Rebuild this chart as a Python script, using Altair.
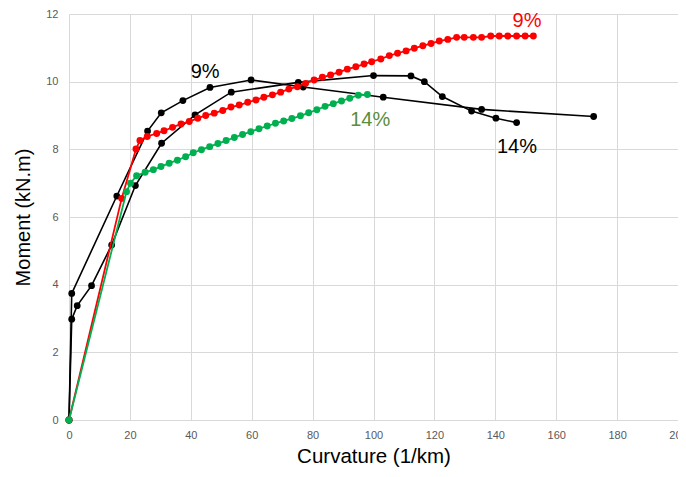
import altair as alt
import pandas as pd

# Black curve labelled 9%
black9_x = [0, 0.9, 15.7, 25.8, 30.3, 37.4, 46.3, 59.8, 76.9, 103.2, 135.5, 172.3]
black9_y = [0, 3.74, 6.62, 8.54, 9.08, 9.44, 9.83, 10.05, 9.84, 9.54, 9.18, 8.97]

# Black curve labelled 14%
black14_x = [0, 0.9, 2.7, 7.4, 14.0, 21.8, 30.4, 41.4, 53.3, 75.3, 100.0, 112.3,
             116.7, 122.6, 132.2, 140.2, 147.0]
black14_y = [0, 2.98, 3.38, 3.97, 5.17, 6.93, 8.18, 9.02, 9.69, 9.98, 10.18, 10.17,
             10.0, 9.56, 9.13, 8.92, 8.79]

# Red curve (9%)
red_x = [0, 17.3, 22.0, 23.3, 25.7, 28.8, 31.2, 34.0, 36.8, 39.5, 42.3, 44.9,
         47.7, 50.5, 53.2, 55.9, 58.7, 61.4, 64.0, 66.8, 69.5, 72.2,
         75.0, 77.7, 80.5, 83.2, 85.9, 88.7, 91.4, 94.2, 96.9,
         99.4, 102.4, 105.2, 107.9, 110.7, 113.4, 116.2, 118.9, 121.6, 124.4,
         127.3, 129.8, 132.8, 135.5, 138.5, 141.3, 144.1, 147.0, 149.8, 152.5]
red_y = [0, 6.55, 8.01, 8.26, 8.38, 8.47, 8.55, 8.65, 8.75, 8.82, 8.92, 9.00,
         9.07, 9.15, 9.25, 9.31, 9.39, 9.46, 9.54, 9.61, 9.69, 9.78,
         9.85, 9.95, 10.05, 10.13, 10.20, 10.28, 10.37, 10.44, 10.52,
         10.59, 10.67, 10.77, 10.84, 10.91, 10.99, 11.06, 11.13, 11.20, 11.25,
         11.31, 11.31, 11.31, 11.31, 11.35, 11.35, 11.35, 11.35, 11.35, 11.35]

# Green curve (14%)
green_x = [0, 18.9, 20.2, 22.2, 25.0, 27.7, 30.2, 32.9, 35.6, 38.3,
           40.8, 43.5, 46.2, 48.9, 51.6, 54.3, 57.0, 59.7, 62.4, 65.1,
           67.8, 70.5, 73.2, 76.0, 78.7, 81.4, 84.1, 86.8, 89.5, 92.2,
           95.0, 98.0]
green_y = [0, 6.75, 7.0, 7.22, 7.32, 7.40, 7.49, 7.59, 7.68, 7.78,
           7.90, 7.99, 8.08, 8.17, 8.26, 8.35, 8.44, 8.52, 8.61, 8.69,
           8.77, 8.84, 8.91, 8.99, 9.08, 9.17, 9.27, 9.35, 9.43, 9.51,
           9.60, 9.62]

# Annotation labels
label_text = ["9%", "14%", "9%", "14%"]
label_x = [44.7, 98.9, 150.4, 147.1]
label_y = [10.29, 8.87, 11.78, 8.07]
label_color = ["#000000", "#5B8C3A", "#FF0000", "#000000"]

x_ticks = list(range(0, 201, 20))
y_ticks = list(range(0, 13, 2))

def frame(xs, ys):
    return pd.DataFrame({"x": xs, "y": ys, "i": list(range(len(xs)))})

xs = alt.Scale(domain=[0, 200], nice=False)
ys = alt.Scale(domain=[0, 12], nice=False)

x_axis = alt.Axis(values=x_ticks, title="Curvature (1/km)", grid=True, ticks=False,
                  domain=True, domainColor="#d9d9d9", labelPadding=9, titlePadding=6,
                  titleFontSize=20.5, labelFlush=False)
y_axis = alt.Axis(values=y_ticks, title="Moment (kN.m)", grid=True, ticks=False,
                  domain=False, labelPadding=11, titlePadding=12, titleFontSize=20,
                  labelFlush=False)

def curve(df, color, width, size):
    base = alt.Chart(df).encode(
        x=alt.X("x:Q", scale=xs, axis=x_axis),
        y=alt.Y("y:Q", scale=ys, axis=y_axis),
        order="i:Q",
    )
    line = base.mark_line(color=color, strokeWidth=width)
    pts = base.mark_circle(color=color, size=size, opacity=1)
    return line + pts

b9 = curve(frame(black9_x, black9_y), "#000000", 1.6, 46)
b14 = curve(frame(black14_x, black14_y), "#000000", 1.6, 46)
red = curve(frame(red_x, red_y), "#FF0000", 1.8, 48)
green = curve(frame(green_x, green_y), "#00B050", 1.8, 48)

labels_df = pd.DataFrame({"t": label_text, "x": label_x, "y": label_y, "c": label_color})
labels = alt.Chart(labels_df).mark_text(fontSize=20, font="Liberation Sans").encode(
    x=alt.X("x:Q", scale=xs),
    y=alt.Y("y:Q", scale=ys),
    text="t:N",
    color=alt.Color("c:N", scale=None),
)

chart = alt.layer(b9, b14, red, green, labels).properties(
    width=609,
    height=406,
    autosize=alt.AutoSizeParams(type="none"),
    padding={"left": 61, "top": 6, "right": 0, "bottom": 49},
).configure_view(strokeWidth=0).configure_axis(
    gridColor="#d9d9d9",
    gridWidth=1,
    labelColor="#595959",
    labelFont="Liberation Sans",
    labelFontSize=11,
    titleFont="Liberation Sans",
    titleFontWeight="normal",
    titleColor="#000000",
)

chart.save("out.html", embed_options={"renderer": "svg", "actions": False})
